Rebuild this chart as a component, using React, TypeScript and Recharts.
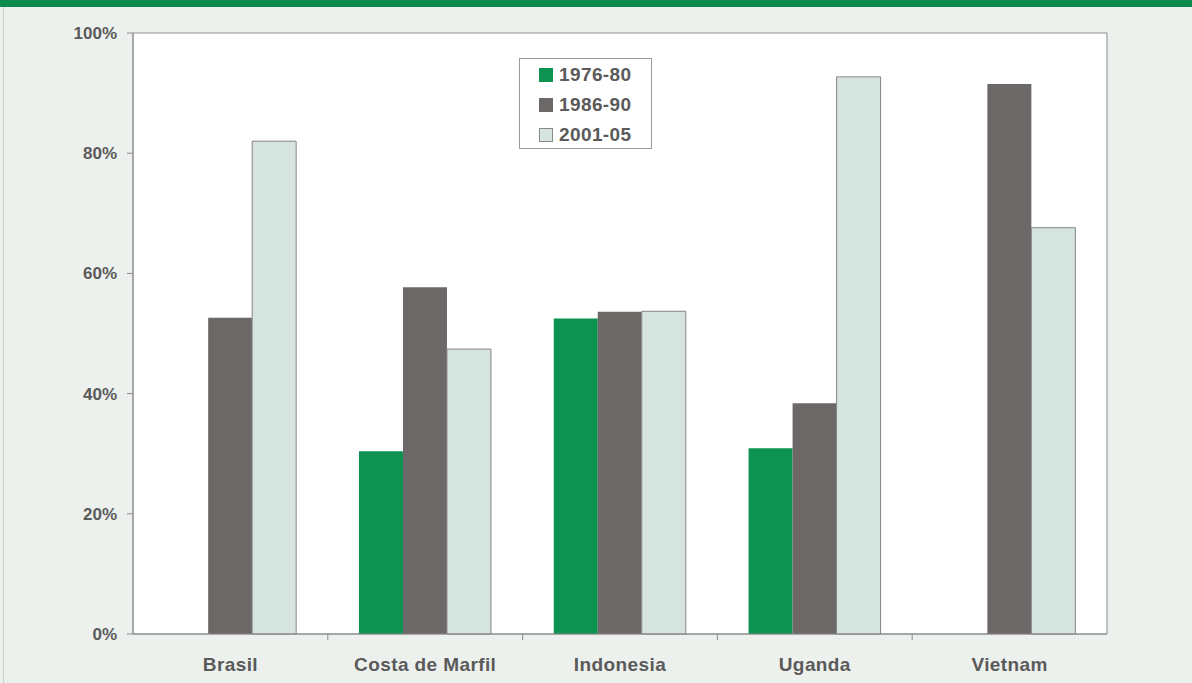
import React from 'react';
import { BarChart, Bar, XAxis, YAxis, CartesianGrid, ReferenceArea } from 'recharts';

const countries = ['Brasil', 'Costa de Marfil', 'Indonesia', 'Uganda', 'Vietnam'];
const s1976 = [0, 30.4, 52.5, 30.9, 0];
const s1986 = [52.6, 57.7, 53.6, 38.4, 91.5];
const s2001 = [82.0, 47.4, 53.7, 92.7, 67.6];
const seriesNames = ['1976-80', '1986-90', '2001-05'];
const yTicks = [0, 20, 40, 60, 80, 100];

const data = countries.map((c, i) => ({
  country: c,
  a: s1976[i],
  b: s1986[i],
  c: s2001[i],
}));

const GREEN = '#0c9352';
const GRAY = '#6d6868';
const LIGHT = '#d6e4e0';
const TEXT = '#5a5a5a';
const AXIS = '#8c8c8c';
const FONT = '"Liberation Sans", Arial, sans-serif';

const legendItems = [
  { name: seriesNames[0], fill: GREEN, stroke: GREEN },
  { name: seriesNames[1], fill: GRAY, stroke: GRAY },
  { name: seriesNames[2], fill: LIGHT, stroke: '#8a8a8a' },
];

const LegendBox = () => (
  <div
    style={{
      position: 'absolute',
      left: 519,
      top: 58,
      border: '1px solid #9a9a9a',
      background: '#ffffff',
      width: 133,
      height: 91,
      boxSizing: 'border-box',
      padding: '0 0 0 19px',
      fontFamily: FONT,
      fontWeight: 'bold',
      fontSize: 19,
      letterSpacing: 0.4,
      color: TEXT,
    }}
  >
    {legendItems.map((it, i) => (
      <div
        key={it.name}
        style={{ position: 'absolute', left: 19, top: 1 + i * 30, height: 30, display: 'flex', alignItems: 'center' }}
      >
        <span
          style={{
            display: 'inline-block',
            width: 12,
            height: 12,
            background: it.fill,
            border: `1px solid ${it.stroke}`,
            marginRight: 6,
          }}
        />
        <span>{it.name}</span>
      </div>
    ))}
  </div>
);

const XTick = (props: any) => {
  const { x, y, payload, index, width, visibleTicksCount } = props;
  const band = width / (visibleTicksCount || countries.length);
  return (
    <g>
      <text
        x={x}
        y={y + 37}
        textAnchor="middle"
        fill={TEXT}
        fontFamily={FONT}
        fontWeight="bold"
        fontSize={19}
        letterSpacing={0.4}
      >
        {payload.value}
      </text>
      {index < countries.length - 1 ? (
        <line x1={x + band / 2} x2={x + band / 2} y1={y} y2={y + 6} stroke={AXIS} strokeWidth={1} />
      ) : null}
    </g>
  );
};

export default function App() {
  return (
    <div
      style={{
        position: 'absolute',
        left: 0,
        top: 0,
        width: 1192,
        height: 683,
        background: '#edf1ee',
        overflow: 'hidden',
      }}
    >
      <div style={{ position: 'absolute', left: 0, top: 0, width: 1192, height: 7, background: '#0b8a4b' }} />
      <div style={{ position: 'absolute', left: 3, top: 7, width: 1, height: 676, background: '#c9cfcb' }} />
      <div style={{ position: 'absolute', left: 0, top: 0 }}>
        <BarChart
          width={1192}
          height={683}
          data={data}
          margin={{ top: 33, right: 85, bottom: 0, left: 0 }}
          barCategoryGap="16%"
          barGap={0}
        >
          <CartesianGrid horizontal={false} vertical={false} fill="#ffffff" />
          <XAxis
            dataKey="country"
            height={49}
            interval={0}
            tickSize={0}
            tickMargin={0}
            tickLine={false}
            axisLine={{ stroke: AXIS, strokeWidth: 1 }}
            tick={<XTick />}
          />
          <YAxis
            width={133}
            domain={[0, 100]}
            ticks={yTicks}
            interval={0}
            tickSize={6}
            tickMargin={10}
            tickFormatter={(v: number) => `${v}%`}
            tickLine={{ stroke: AXIS }}
            axisLine={{ stroke: AXIS, strokeWidth: 1 }}
            tick={{ fill: TEXT, fontFamily: FONT, fontWeight: 'bold', fontSize: 17 }}
          />
          <ReferenceArea y1={0} y2={100} fill="none" stroke={AXIS} strokeWidth={1} ifOverflow="visible" />
          <Bar dataKey="a" name={seriesNames[0]} fill={GREEN} isAnimationActive={false} />
          <Bar dataKey="b" name={seriesNames[1]} fill={GRAY} isAnimationActive={false} />
          <Bar dataKey="c" name={seriesNames[2]} fill={LIGHT} stroke="#858585" strokeWidth={1} isAnimationActive={false} />
        </BarChart>
      </div>
      <LegendBox />
    </div>
  );
}
